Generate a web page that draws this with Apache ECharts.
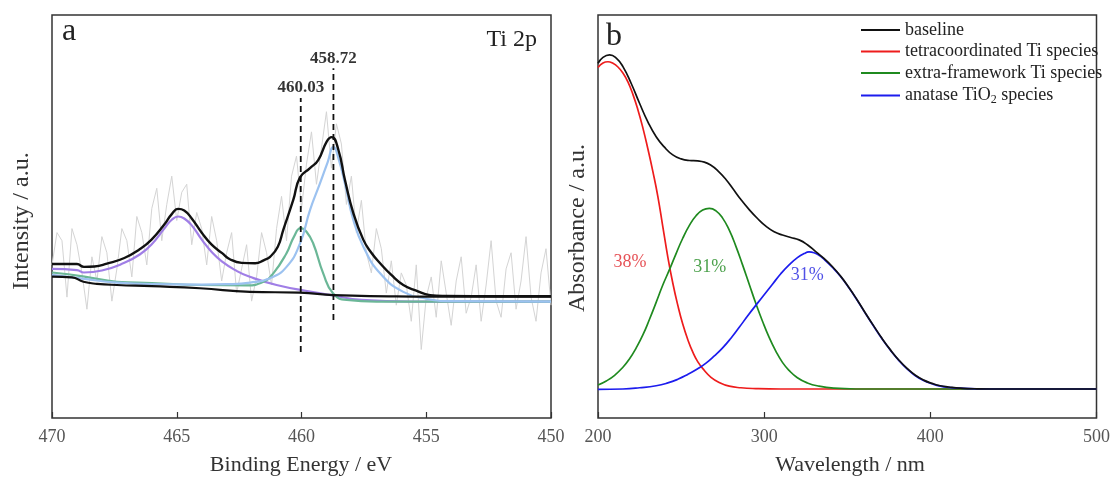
<!DOCTYPE html>
<html><head><meta charset="utf-8">
<script src="https://cdn.jsdelivr.net/npm/echarts@6/dist/echarts.min.js"></script>
<style>html,body{margin:0;padding:0;background:#fff}#c{width:1113px;height:477px}</style>
</head><body><div id="c"></div>
<script>
// ---------- Panel a : XPS Ti 2p ----------
const rawBE = [470.0,469.8,469.6,469.4,469.2,469.0,468.8,468.6,468.4,468.2,468.0,467.8,467.6,467.4,467.2,467.0,466.8,466.6,466.4,466.2,466.0,465.8,465.6,465.4,465.2,465.0,464.8,464.6,464.4,464.2,464.0,463.8,463.6,463.4,463.2,463.0,462.8,462.6,462.4,462.2,462.0,461.8,461.6,461.4,461.2,461.0,460.8,460.6,460.4,460.2,460.0,459.8,459.6,459.4,459.2,459.0,458.8,458.6,458.4,458.2,458.0,457.8,457.6,457.4,457.2,457.0,456.8,456.6,456.4,456.2,456.0,455.8,455.6,455.4,455.2,455.0,454.8,454.6,454.4,454.2,454.0,453.8,453.6,453.4,453.2,453.0,452.8,452.6,452.4,452.2,452.0,451.8,451.6,451.4,451.2,451.0,450.8,450.6,450.4,450.2,450.0];
const rawVal = [38,46,44,30,47,43,36,27,40,34, 45,41,29,37,47,44,35,50,46,38, 52,57,44,53,60,49,56,58,43,51, 47,38,50,44,34,41,46,31,37,43, 29,35,46,41,33,47,55,44,60,65, 52,63,71,58,67,76,62,73,68,53, 60,46,54,41,36,47,42,31,39,28, 36,33,24,38,17,30,35,25,39,31, 23,34,40,26,30,38,24,33,44,29, 25,37,41,27,34,45,30,24,36,42,28];

const envBE  = [470.0,469.0,468.72,468.3,467.8,467.1,466.5,466.02,465.5,465.2,464.94,464.7,464.4,463.99,463.6,463.18,462.87,462.4,461.86,461.5,461.26,460.95,460.73,460.33,460.06,459.66,459.33,458.99,458.79,458.52,458.26,457.92,457.52,457.2,456.85,456.4,455.92,455.4,454.85,454.25,452.0,450.0];
const envVal = [38.2,38.2,37.5,37.6,38.3,39.7,41.8,44.2,48.0,50.6,51.9,51.5,49.5,45.9,43.0,40.9,39.4,38.5,38.4,39.2,40.0,42.5,46.7,54.1,59.7,62.0,64.0,68.6,69.7,66.5,59.1,50.8,44.2,41.0,38.4,35.5,33.0,31.6,30.5,30.3,30.2,30.2];

const bgBE  = [470.0,469.2,468.74,468.2,467.4,466.0,464.07,462.06,460.06,458.7,456.5,454.85,450.0];
const bgVal = [35.1,34.9,33.8,33.3,33.0,32.7,32.2,31.3,31.1,30.5,30.2,30.1,30.1];

const purBE  = [470.0,469.0,468.72,468.0,467.1,466.5,466.02,465.5,465.2,464.94,464.7,464.4,463.99,463.6,463.18,462.6,462.1,461.0,459.6,458.8,457.6,455.6,450.0];
const purVal = [37.0,36.7,36.1,36.6,38.5,40.5,43.0,47.0,49.2,50.0,49.5,47.8,44.2,41.2,38.8,36.5,35.1,33.0,31.3,30.5,29.3,28.9,28.9];

const bluBE  = [470.0,468.7,467.4,466.0,464.0,463.0,462.06,461.26,460.6,460.06,459.66,459.26,458.95,458.72,458.5,458.26,457.92,457.52,456.85,455.92,455.0,454.0,450.0];
const bluVal = [35.5,34.5,33.6,33.2,33.1,33.2,33.6,34.7,37.5,43.3,51.6,58.2,63.5,67.3,64.0,58.2,49.1,42.5,35.9,31.3,29.6,29.0,28.9];

const grnBE  = [470.0,468.7,467.4,466.0,464.0,462.2,461.53,461.13,460.6,460.3,460.03,459.8,459.53,459.13,458.73,458.19,457.0,450.0];
const grnVal = [36.1,35.1,33.8,33.5,33.0,32.9,33.8,35.9,40.9,45.0,47.1,46.2,43.3,35.9,30.9,29.3,28.9,28.9];

const peakPos   = [460.03, 458.72];
const peakLow   = [16.4, 24.3];
const peakHigh  = [79.4, 86.8];
const peakLabY  = [82.0, 89.3];
const peakText  = ['460.03', '458.72'];
const beTicks   = [470, 465, 460, 455, 450];

// ---------- Panel b : UV-vis ----------
const wlBlack  = [200,203,207,211,215,220,225,230,235,240,245,250,255,260,264,268,272,277,281,286,291,296,301,306,311,316,321,326,331,336,341,346,351,356,361,366,371,376,381,386,391,396,401,406,411,418,428,445,500];
const absBlack = [88.0,89.5,90.1,89.3,87.2,83.0,78.1,73.5,69.8,67.2,65.3,64.3,63.9,63.8,63.5,62.7,61.4,59.2,57.0,54.2,51.7,49.5,47.6,46.2,45.4,44.8,44.2,43.0,41.3,39.6,37.6,35.2,32.4,29.3,26.0,22.8,19.7,16.9,14.4,12.3,10.6,9.4,8.6,8.0,7.7,7.4,7.25,7.2,7.2];

const wlRed  = [200,203,206,209,212,215,218,221,224,227,230,233,236,239,242,245,248,251,254,257,260,264,268,273,279,286,295,310,500];
const absRed = [87.0,88.1,88.4,88.0,87.1,85.6,83.4,80.3,76.5,72.0,66.8,61.2,55.0,47.5,40.0,33.5,28.0,23.3,19.5,16.4,14.0,11.8,10.1,8.8,7.9,7.5,7.3,7.2,7.2];

const wlGreen  = [200,205,210,215,219,223,227,231,235,239,243,247,251,255,259,263,267,271,275,279,283,287,291,295,299,303,307,311,315,320,326,333,342,355,500];
const absGreen = [8.2,9.2,10.6,12.6,14.7,17.4,20.6,24.5,28.7,33.0,36.8,40.8,44.6,47.8,50.2,51.6,52.0,51.4,49.6,46.6,42.6,38.0,33.2,28.4,24.0,20.0,16.6,13.8,11.8,10.0,8.7,7.9,7.4,7.2,7.2];

const wlBlue  = [200,215,225,235,242,248,254,260,265,270,275,280,285,290,296,300,305,310,315,320,324,327,330,333,336,341,346,351,356,361,366,371,376,381,386,391,396,401,406,411,418,428,445,500];
const absBlue = [7.1,7.2,7.5,8.0,8.7,9.6,10.8,12.2,13.6,15.4,17.4,19.8,22.5,25.3,28.5,30.6,33.2,35.8,38.0,39.8,40.8,41.2,41.0,40.4,39.4,37.4,35.1,32.3,29.2,25.9,22.7,19.6,16.8,14.3,12.2,10.5,9.3,8.5,7.9,7.6,7.4,7.25,7.2,7.2];

const pctText  = ['38%', '31%', '31%'];
const pctWl    = [219.2, 267.2, 326.0];
const pctAbs   = [38.7, 37.5, 35.5];
const wlTicks  = [200, 300, 400, 500];

const legendNames = ['baseline', 'tetracoordinated Ti species', 'extra-framework Ti species', 'anatase TiO2 species'];

// ---------- build ----------
const zip = (xs, ys) => xs.map((x, i) => [x, ys[i]]);
const SERIF = "'Liberation Serif', 'DejaVu Serif', serif";
const pctColors = ['#e0262c', '#1f8a1f', '#2424e0'];

function lineSeries(name, xs, ys, color, width, axis, z, smooth) {
  return {
    name, type: 'line', data: zip(xs, ys), xAxisIndex: axis, yAxisIndex: axis,
    smooth: smooth === undefined ? 0.5 : smooth, symbol: 'none', showSymbol: false, silent: true, z: z || 2,
    lineStyle: { color, width }, itemStyle: { color }, animation: false
  };
}

const series = [
  lineSeries('raw', rawBE, rawVal, '#d4d4d4', 1, 0, 1, false),
  lineSeries('Ti2p-bg', bgBE, bgVal, '#111', 2.2, 0, 3),
  lineSeries('Ti2p-purple', purBE, purVal, '#a07ee6', 2.2, 0, 2),
  lineSeries('Ti2p-green', grnBE, grnVal, '#6bb797', 2.2, 0, 2),
  lineSeries('Ti2p-blue', bluBE, bluVal, '#9cc2f0', 2.2, 0, 2),
  lineSeries('Ti2p-env', envBE, envVal, '#111', 2.4, 0, 4),
];
peakPos.forEach((p, i) => {
  series.push({
    name: 'dash' + i, type: 'line', xAxisIndex: 0, yAxisIndex: 0, symbol: 'none', silent: true, z: 5,
    data: [[p, peakLow[i]], [p, peakHigh[i]]],
    lineStyle: { color: '#111', width: 1.8, type: [6, 4] }, animation: false
  });
});
series.push({
  name: 'peakLabels', type: 'scatter', xAxisIndex: 0, yAxisIndex: 0, symbolSize: 0, silent: true, z: 6,
  data: peakPos.map((p, i) => ({ value: [p, peakLabY[i]], label: { formatter: peakText[i] } })),
  label: { show: true, position: [0, 0], align: 'center', verticalAlign: 'middle',
           fontFamily: SERIF, fontSize: 17, fontWeight: 'bold', color: '#000' },
  animation: false
});

series.push(lineSeries(legendNames[1], wlRed, absRed, '#ee1c1c', 1.7, 1, 2));
series.push(lineSeries(legendNames[2], wlGreen, absGreen, '#1f8a1f', 1.7, 1, 2));
series.push(lineSeries(legendNames[3], wlBlue, absBlue, '#1c1cee', 1.7, 1, 2));
series.push(lineSeries(legendNames[0], wlBlack, absBlack, '#111', 1.7, 1, 3));
series.push({
  name: 'pct', type: 'scatter', xAxisIndex: 1, yAxisIndex: 1, symbolSize: 0, silent: true, z: 6,
  data: pctWl.map((w, i) => ({ value: [w, pctAbs[i]], label: { formatter: pctText[i], color: pctColors[i] } })),
  label: { show: true, position: [0, 0], align: 'center', verticalAlign: 'middle', fontFamily: SERIF, fontSize: 18 },
  animation: false
});

function xAxisCfg(idx, min, max, interval, inverse, ticks) {
  return {
    type: 'value', gridIndex: idx, min, max, interval, inverse,
    axisLine: { show: false },
    axisTick: { show: true, inside: true, length: 6, lineStyle: { color: '#333', width: 1.2 } },
    axisLabel: { show: true, margin: 10, fontFamily: SERIF, fontSize: 18, color: '#555',
                 customValues: ticks, formatter: v => String(v) },
    splitLine: { show: false }
  };
}
function yAxisCfg(idx) {
  return { type: 'value', gridIndex: idx, min: 0, max: 100, axisLine: { show: false }, axisTick: { show: false },
           axisLabel: { show: false }, splitLine: { show: false } };
}

const option = {
  backgroundColor: '#fff',
  animation: false,
  grid: [
    { left: 52, right: 562, top: 15, bottom: 59, show: true, borderColor: '#333', borderWidth: 1.5 },
    { left: 598, right: 15, top: 15, bottom: 59, show: true, borderColor: '#333', borderWidth: 1.5 }
  ],
  xAxis: [xAxisCfg(0, 450, 470, 5, true, beTicks), xAxisCfg(1, 200, 500, 100, false, wlTicks)],
  yAxis: [yAxisCfg(0), yAxisCfg(1)],
  legend: {
    data: legendNames.map(n => ({ name: n, icon: 'rect' })), orient: 'vertical', left: 861, top: 21, padding: 0,
    itemWidth: 39, itemHeight: 2, itemGap: 3.5, selectedMode: false,
    textStyle: { fontFamily: SERIF, fontSize: 18, lineHeight: 18, color: '#222',
                 rich: { sub: { fontFamily: SERIF, fontSize: 12, lineHeight: 18, padding: [8, 0, 0, 0], color: '#222' } } },
    formatter: n => n.replace('TiO2', 'TiO{sub|2}')
  },
  graphic: [
    { type: 'text', x: 69, y: 32, style: { text: 'a', font: '32px ' + SERIF, fill: '#222', align: 'center', verticalAlign: 'middle' } },
    { type: 'text', x: 537, y: 40, style: { text: 'Ti 2p', font: '24px ' + SERIF, fill: '#222', align: 'right', verticalAlign: 'middle' } },
    { type: 'text', x: 614, y: 37, style: { text: 'b', font: '32px ' + SERIF, fill: '#222', align: 'center', verticalAlign: 'middle' } },
    { type: 'text', x: 301, y: 465, style: { text: 'Binding Energy / eV', font: '22px ' + SERIF, fill: '#333', align: 'center', verticalAlign: 'middle' } },
    { type: 'text', x: 850, y: 465, style: { text: 'Wavelength / nm', font: '22px ' + SERIF, fill: '#333', align: 'center', verticalAlign: 'middle' } },
    { type: 'text', x: 22, y: 221, rotation: Math.PI / 2, style: { text: 'Intensity / a.u.', font: '24px ' + SERIF, fill: '#333', align: 'center', verticalAlign: 'middle' } },
    { type: 'text', x: 578, y: 228, rotation: Math.PI / 2, style: { text: 'Absorbance / a.u.', font: '24px ' + SERIF, fill: '#333', align: 'center', verticalAlign: 'middle' } }
  ],
  series
};

const chart = echarts.init(document.getElementById('c'), null, { renderer: 'canvas' });
chart.setOption(option);
</script></body></html>
